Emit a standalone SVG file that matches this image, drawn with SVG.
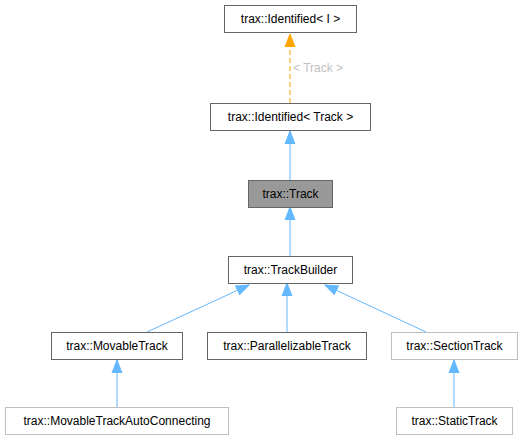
<svg xmlns="http://www.w3.org/2000/svg" width="529" height="440" viewBox="0 0 529 440">
<style>
.n{fill:#fff;stroke:#666;stroke-width:1}
.l{fill:#fff;stroke:#bfbfbf;stroke-width:1}
.t{font-family:"Liberation Sans",Arial,sans-serif;font-size:12px;fill:#000;text-anchor:middle}
.e{stroke:#63b8ff;stroke-width:1;fill:none}
</style>
<defs>
<marker id="ab" markerUnits="userSpaceOnUse" markerWidth="14" markerHeight="12" refX="13" refY="6" orient="auto">
<path d="M0,1 L13,6 L0,11 Z" fill="#63b8ff" stroke="#63b8ff"/>
</marker>
<marker id="ao" markerUnits="userSpaceOnUse" markerWidth="14" markerHeight="12" refX="13" refY="6" orient="auto">
<path d="M0,1 L13,6 L0,11 Z" fill="#ffa500" stroke="#ffa500"/>
</marker>
</defs>
<rect width="529" height="440" fill="#fff"/>
<g id="edges">
<path d="M290,103 L290,34" stroke="#ffa500" stroke-dasharray="5,3" fill="none" marker-end="url(#ao)"/>
<text x="293" y="72" style="font-family:'Liberation Sans',Arial,sans-serif;font-size:12px;fill:#bfbfbf">&lt; Track &gt;</text>
<path class="e" d="M290,180 L290,131" marker-end="url(#ab)"/>
<path class="e" d="M290,256 L290,207" marker-end="url(#ab)"/>
<path class="e" d="M147,332 L249,285" marker-end="url(#ab)"/>
<path class="e" d="M287,332 L287,283" marker-end="url(#ab)"/>
<path class="e" d="M426,332 L325,285" marker-end="url(#ab)"/>
<path class="e" d="M117,407 L117,360" marker-end="url(#ab)"/>
<path class="e" d="M454,407 L454,360" marker-end="url(#ab)"/>
</g>
<g id="identifiedI"><rect class="n" x="224.5" y="5.5" width="132" height="27"/><text class="t" x="290.5" y="23">trax::Identified&lt; I &gt;</text></g>
<g id="identifiedTrack"><rect class="n" x="210.5" y="103.5" width="160" height="27"/><text class="t" x="290.5" y="121">trax::Identified&lt; Track &gt;</text></g>
<g id="track"><rect x="248.5" y="180.5" width="84" height="27" fill="#999" stroke="#666"/><text class="t" x="290.5" y="198">trax::Track</text></g>
<g id="trackBuilder"><rect class="n" x="228.5" y="256.5" width="124" height="27"/><text class="t" x="290.5" y="274">trax::TrackBuilder</text></g>
<g id="movableTrack"><rect class="n" x="51.5" y="332.5" width="131" height="27"/><text class="t" x="117" y="350">trax::MovableTrack</text></g>
<g id="parallelizableTrack"><rect class="n" x="207.5" y="332.5" width="159" height="27"/><text class="t" x="287" y="350">trax::ParallelizableTrack</text></g>
<g id="sectionTrack"><rect class="l" x="391.5" y="332.5" width="126" height="27"/><text class="t" x="454.5" y="350">trax::SectionTrack</text></g>
<g id="movableTrackAutoConnecting"><rect class="l" x="5.5" y="407.5" width="223" height="27"/><text class="t" x="117" y="425">trax::MovableTrackAutoConnecting</text></g>
<g id="staticTrack"><rect class="l" x="396.5" y="407.5" width="116" height="27"/><text class="t" x="454.5" y="425">trax::StaticTrack</text></g>
</svg>
